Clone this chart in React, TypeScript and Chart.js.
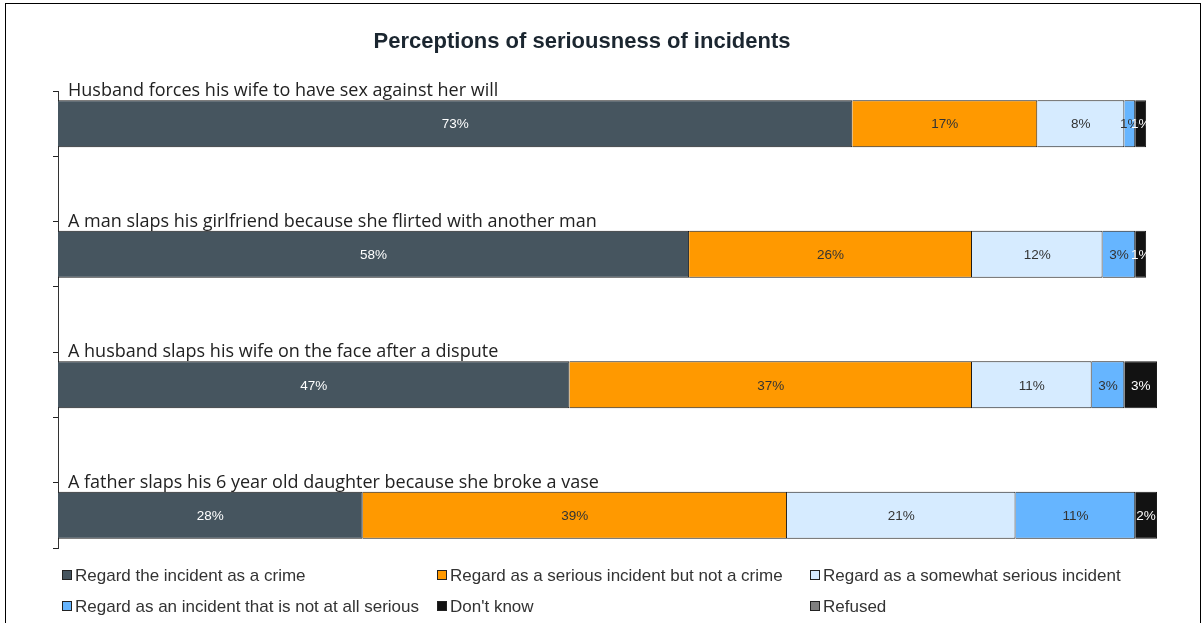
import React, { useEffect, useRef } from "react";
import { Chart, registerables } from "chart.js";

Chart.register(...registerables);

const TITLE = "Perceptions of seriousness of incidents";

const categories = [
  "Husband forces his wife to have sex against her will",
  "A man slaps his girlfriend because she flirted with another man",
  "A husband slaps his wife on the face after a dispute",
  "A father slaps his 6 year old daughter because she broke a vase",
];

const seriesNames = [
  "Regard the incident as a crime",
  "Regard as a serious incident but not a crime",
  "Regard as a somewhat serious incident",
  "Regard as an incident that is not at all serious",
  "Don't know",
  "Refused",
];

const crime = [73, 58, 47, 28];
const seriousNotCrime = [17, 26, 37, 39];
const somewhatSerious = [8, 12, 11, 21];
const notSerious = [1, 3, 3, 11];
const dontKnow = [1, 1, 3, 2];
const refused = [0, 0, 0, 0];

const seriesValues = [crime, seriousNotCrime, somewhatSerious, notSerious, dontKnow, refused];
const seriesColors = ["#46555F", "#FF9900", "#D6EBFF", "#66B5FF", "#121212", "#808080"];
const labelColors = ["#ffffff", "#333333", "#333333", "#333333", "#ffffff", "#ffffff"];

// interleave empty rows between categories (spacer rows hold category titles)
const rowLabels: string[] = [];
categories.forEach((c, i) => {
  rowLabels.push(c);
  if (i < categories.length - 1) rowLabels.push("");
});
const expand = (vals: number[]) => {
  const out: (number | null)[] = [];
  vals.forEach((v, i) => {
    out.push(v);
    if (i < vals.length - 1) out.push(null);
  });
  return out;
};

const overlayPlugin = {
  id: "overlay",
  afterDatasetsDraw(chart: any) {
    const ctx = chart.ctx;
    ctx.save();
    // data labels
    ctx.font = "13.5px 'Liberation Sans', Arial, sans-serif";
    ctx.textAlign = "center";
    ctx.textBaseline = "middle";
    chart.data.datasets.forEach((ds: any, di: number) => {
      const meta = chart.getDatasetMeta(di);
      meta.data.forEach((el: any, i: number) => {
        const v = ds.data[i];
        if (v == null || v === 0) return;
        const cx = (el.x + el.base) / 2;
        ctx.fillStyle = labelColors[di];
        ctx.fillText(v + "%", cx, el.y + 1);
      });
    });
    // category titles above bars
    const meta0 = chart.getDatasetMeta(0);
    ctx.font = "18px 'Open Sans', sans-serif";
    ctx.textAlign = "left";
    ctx.textBaseline = "alphabetic";
    ctx.fillStyle = "#222222";
    chart.data.labels.forEach((lab: string, i: number) => {
      if (!lab) return;
      const el = meta0.data[i];
      const top = el.y - el.height / 2;
      ctx.fillText(lab, chart.chartArea.left + 10, top - 4);
    });
    ctx.restore();
  },
  afterDraw(chart: any) {
    const ctx = chart.ctx;
    ctx.save();
    // outer border
    ctx.strokeStyle = "#000000";
    ctx.lineWidth = 1;
    ctx.strokeRect(5.5, 3.5, 1195, 700);
    // title
    ctx.font = "bold 22px 'Liberation Sans', Arial, sans-serif";
    ctx.fillStyle = "#1B2630";
    ctx.textAlign = "center";
    ctx.textBaseline = "middle";
    ctx.fillText(TITLE, 582, 42);
    // legend
    const cols = [62, 437, 810];
    const rows = [575, 606];
    ctx.font = "17px 'Liberation Sans', Arial, sans-serif";
    ctx.textAlign = "left";
    ctx.textBaseline = "middle";
    chart.data.datasets.forEach((ds: any, di: number) => {
      const x = cols[di % 3];
      const y = rows[Math.floor(di / 3)];
      ctx.fillStyle = ds.backgroundColor;
      ctx.fillRect(x, y - 5, 10, 10);
      ctx.strokeStyle = "#222222";
      ctx.strokeRect(x + 0.5, y - 4.5, 9, 9);
      ctx.fillStyle = "#333333";
      ctx.fillText(ds.label, x + 13, y + 1);
    });
    ctx.restore();
  },
};

export default function App() {
  const ref = useRef<HTMLCanvasElement>(null);
  useEffect(() => {
    document.body.style.margin = "0";
    const chart = new Chart(ref.current as HTMLCanvasElement, {
      type: "bar",
      data: {
        labels: rowLabels,
        datasets: seriesNames.map((name, i) => ({
          label: name,
          data: expand(seriesValues[i]),
          backgroundColor: seriesColors[i],
          borderColor: "#1a1a1a",
          borderWidth: 1,
          categoryPercentage: 1,
          barPercentage: 0.72,
        })),
      },
      options: {
        indexAxis: "y",
        responsive: false,
        animation: false,
        layout: { padding: { left: 53, right: 47, top: 91, bottom: 75 } },
        plugins: {
          legend: { display: false },
          title: { display: false },
          tooltip: { enabled: false },
        },
        scales: {
          x: { stacked: true, min: 0, max: 101, display: false },
          y: {
            stacked: true,
            offset: true,
            grid: {
              offset: true,
              drawOnChartArea: false,
              drawTicks: true,
              tickLength: 5,
              lineWidth: 1,
              color: "#222222",
            },
            border: { display: true, color: "#333333" },
            ticks: { display: false, autoSkip: false },
          },
        },
      },
      plugins: [overlayPlugin],
    });
    return () => chart.destroy();
  }, []);
  return (
    <div style={{ width: 1204, height: 623, position: "relative", background: "#fff" }}>
      <canvas ref={ref} width={1204} height={623} style={{ display: "block" }} />
    </div>
  );
}
